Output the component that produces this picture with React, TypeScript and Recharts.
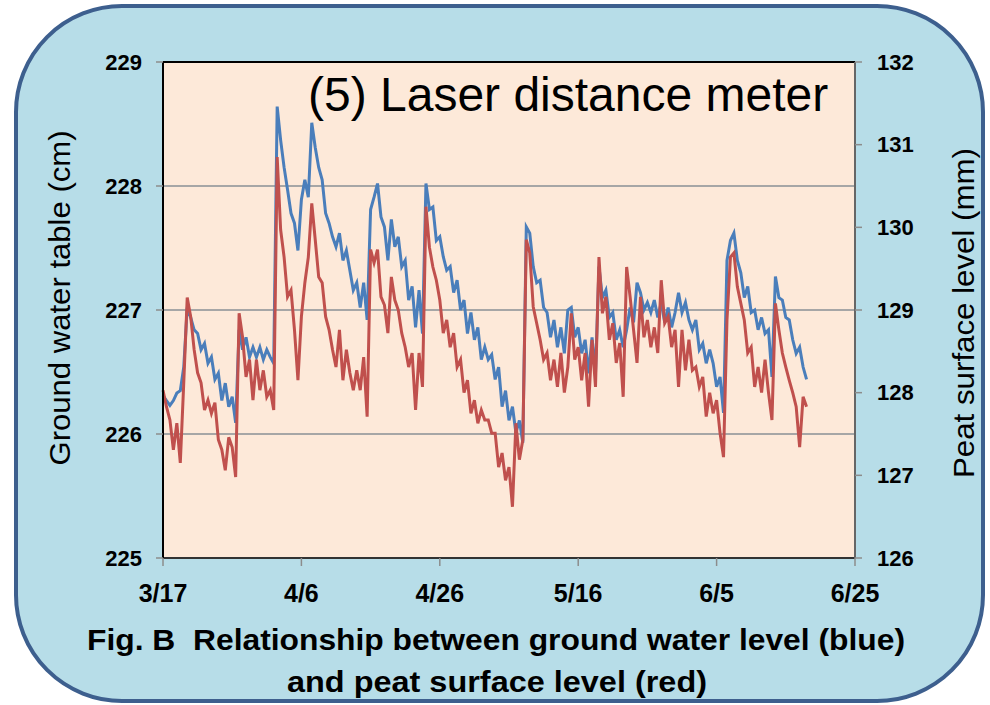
import React from 'react';
import {
  LineChart,
  Line,
  XAxis,
  YAxis,
  CartesianGrid,
  ReferenceLine,
} from 'recharts';

// x axis: days after 3/17, one reading every half day
const dateLabels = ['3/17', '4/6', '4/26', '5/16', '6/5', '6/25'];
const dayTicks = [0, 20, 40, 60, 80, 100];
const waterTicks = [225, 226, 227, 228, 229];
const peatTicks = [126, 127, 128, 129, 130, 131, 132];

// ground water table (cm), blue, left axis
const waterLevel = [
  226.31, 226.27, 226.23, 226.27, 226.33, 226.35, 226.54, 227.02, 226.94, 226.84,
  226.81, 226.68, 226.73, 226.57, 226.62, 226.44, 226.49, 226.27, 226.41, 226.22,
  226.30, 226.09, 226.84, 226.68, 226.78, 226.62, 226.70, 226.62, 226.70, 226.60,
  226.68, 226.62, 226.57, 228.64, 228.37, 228.15, 227.97, 227.78, 227.70, 227.48,
  227.89, 228.05, 227.91, 228.51, 228.31, 228.15, 228.05, 227.78, 227.70, 227.59,
  227.51, 227.62, 227.40, 227.48, 227.32, 227.16, 227.22, 227.02, 227.22, 226.92,
  227.81, 227.91, 228.02, 227.75, 227.67, 227.40, 227.73, 227.51, 227.59, 227.35,
  227.40, 227.08, 227.19, 226.86, 227.16, 226.81, 228.02, 227.81, 227.83, 227.56,
  227.59, 227.43, 227.32, 227.35, 227.14, 227.24, 227.00, 227.08, 226.81, 226.98,
  226.76, 226.86, 226.60, 226.70, 226.60, 226.64, 226.44, 226.54, 226.22, 226.35,
  226.11, 226.22, 226.01, 226.11, 225.93, 227.67, 227.62, 227.35, 227.22, 227.24,
  227.02, 226.98, 226.78, 226.92, 226.70, 226.86, 226.65, 227.00, 227.02, 226.78,
  226.86, 226.65, 226.76, 226.49, 226.78, 226.49, 227.35, 227.10, 227.16, 226.94,
  226.98, 226.76, 226.84, 226.70, 226.84, 227.02, 226.90, 227.22, 227.14, 227.00,
  227.06, 226.98, 227.08, 226.94, 227.06, 226.90, 227.02, 226.86, 226.98, 227.14,
  226.98, 227.06, 226.92, 226.84, 226.92, 226.68, 226.73, 226.57, 226.68, 226.57,
  226.38, 226.46, 226.17, 227.40, 227.56, 227.62, 227.40, 227.30, 227.10, 227.19,
  226.98, 227.00, 226.84, 226.94, 226.81, 226.84, 226.46, 227.27, 227.10, 227.08,
  226.94, 226.92, 226.76, 226.65, 226.70, 226.54, 226.44,
];

// peat surface level (mm), red, right axis
const peatLevel = [
  128.03, 127.83, 127.67, 127.31, 127.63, 127.15, 128.12, 129.15, 128.92, 128.52,
  128.24, 128.12, 127.79, 127.91, 127.75, 127.88, 127.43, 127.31, 127.06, 127.46,
  127.34, 126.98, 128.96, 128.67, 128.19, 128.40, 127.91, 128.40, 128.03, 128.27,
  127.95, 128.03, 127.79, 130.85, 129.97, 129.64, 129.16, 129.24, 128.76, 128.15,
  128.92, 129.33, 129.64, 130.29, 129.85, 129.40, 129.33, 128.92, 128.76, 128.52,
  128.31, 128.76, 128.15, 128.52, 128.24, 128.03, 128.27, 128.03, 128.43, 127.71,
  129.73, 129.57, 129.73, 129.16, 129.06, 128.72, 129.40, 129.12, 129.00, 128.72,
  128.55, 128.31, 128.48, 127.79, 128.48, 128.07, 130.25, 129.76, 129.52, 129.36,
  129.12, 128.72, 128.88, 128.55, 128.72, 128.31, 128.40, 128.00, 128.15, 127.75,
  127.91, 127.63, 127.79, 127.67, 127.67, 127.51, 127.51, 127.10, 127.27, 126.94,
  127.10, 126.62, 127.63, 127.19, 127.43, 129.85, 129.69, 129.04, 128.84, 128.64,
  128.40, 128.48, 128.15, 128.40, 128.07, 128.48, 128.00, 128.31, 128.96, 128.40,
  128.55, 128.15, 128.48, 127.83, 128.64, 128.07, 129.64, 128.96, 129.16, 128.64,
  128.84, 128.36, 128.60, 127.95, 129.52, 129.16, 128.76, 128.36, 129.16, 128.67,
  128.88, 128.55, 128.79, 128.48, 129.36, 128.84, 128.92, 128.55, 128.76, 128.07,
  128.76, 128.27, 128.64, 128.27, 128.31, 128.07, 128.19, 127.71, 128.00, 127.75,
  127.91, 127.51, 127.22, 128.88, 129.64, 129.69, 129.28, 129.08, 128.88, 128.48,
  128.55, 128.07, 128.31, 128.00, 128.40, 128.00, 127.67, 129.08, 128.76, 128.48,
  128.31, 128.15, 128.00, 127.83, 127.34, 127.95, 127.83,
];

const chartData = waterLevel.map((w, i) => ({ day: i / 2, water: w, peat: peatLevel[i] }));

const FONT = '"Liberation Sans", Arial, sans-serif';
const tickStyle = { fontSize: 22, fontWeight: 700, fill: '#000', fontFamily: FONT };

export default function App() {
  return (
    <div style={{ position: 'absolute', left: 0, top: 0, width: 990, height: 705, overflow: 'hidden', background: '#fff' }}>
      {/* rounded frame */}
      <div
        style={{
          position: 'absolute',
          left: 14,
          top: 4,
          width: 971,
          height: 699,
          boxSizing: 'border-box',
          border: '4px solid #3d5f8e',
          borderRadius: 108,
          background: '#b7dde8',
        }}
      />
      <div style={{ position: 'absolute', left: 0, top: 0 }}>
        <LineChart
          width={990}
          height={705}
          data={chartData}
          margin={{ top: 62, right: 35, left: 63, bottom: 97 }}
        >
          <CartesianGrid
            yAxisId="left"
            vertical={false}
            stroke="#a6a6a6"
            strokeWidth={2}
            fill="#fde9d9"
            fillOpacity={1}
          />
          <XAxis
            dataKey="day"
            type="number"
            domain={[0, 100]}
            ticks={dayTicks}
            tickFormatter={(v) => dateLabels[Math.round(v / 20)]}
            axisLine={{ stroke: '#333', strokeWidth: 2 }}
            tickLine={{ stroke: '#8c8c8c', strokeWidth: 1.5 }}
            tickSize={8}
            tickMargin={18}
            height={50}
            tick={{ ...tickStyle, fontSize: 25 }}
          />
          <YAxis
            yAxisId="left"
            domain={[225, 229]}
            ticks={waterTicks}
            width={100}
            axisLine={{ stroke: '#000', strokeWidth: 2 }}
            tickLine={{ stroke: '#8c8c8c', strokeWidth: 1.5 }}
            tickSize={7}
            tickMargin={14}
            tick={tickStyle}
          />
          <YAxis
            yAxisId="right"
            orientation="right"
            domain={[126, 132]}
            ticks={peatTicks}
            width={100}
            axisLine={{ stroke: '#666', strokeWidth: 2 }}
            tickLine={{ stroke: '#8c8c8c', strokeWidth: 1.5 }}
            tickSize={7}
            tickMargin={15}
            tick={tickStyle}
          />
          <ReferenceLine yAxisId="left" y={229} stroke="#000" strokeWidth={2} />
          <Line
            yAxisId="left"
            type="linear"
            dataKey="water"
            stroke="#4a7ebb"
            strokeWidth={3}
            dot={false}
            isAnimationActive={false}
          />
          <Line
            yAxisId="right"
            type="linear"
            dataKey="peat"
            stroke="#c0504d"
            strokeWidth={3}
            dot={false}
            isAnimationActive={false}
          />
        </LineChart>
      </div>
      <svg
        width={990}
        height={705}
        style={{ position: 'absolute', left: 0, top: 0, pointerEvents: 'none' }}
        fontFamily={FONT}
      >
        <text x={308} y={111} fontSize={48} fill="#000">
          (5) Laser distance meter
        </text>
        <text
          transform="translate(70,298) rotate(-90)"
          textAnchor="middle"
          fontSize={30}
          textLength={335}
          lengthAdjust="spacingAndGlyphs"
          fill="#000"
        >
          Ground water table (cm)
        </text>
        <text
          transform="translate(974,313) rotate(-90)"
          textAnchor="middle"
          fontSize={30}
          textLength={330}
          lengthAdjust="spacingAndGlyphs"
          fill="#000"
        >
          Peat surface level (mm)
        </text>
        <text
          x={496}
          y={650}
          textAnchor="middle"
          fontSize={29}
          fontWeight={700}
          textLength={818}
          lengthAdjust="spacingAndGlyphs"
          fill="#000"
        >
          {'Fig. B\u00a0\u00a0Relationship between ground water level (blue)'}
        </text>
        <text
          x={497}
          y={692}
          textAnchor="middle"
          fontSize={29}
          fontWeight={700}
          textLength={420}
          lengthAdjust="spacingAndGlyphs"
          fill="#000"
        >
          and peat surface level (red)
        </text>
      </svg>
    </div>
  );
}
